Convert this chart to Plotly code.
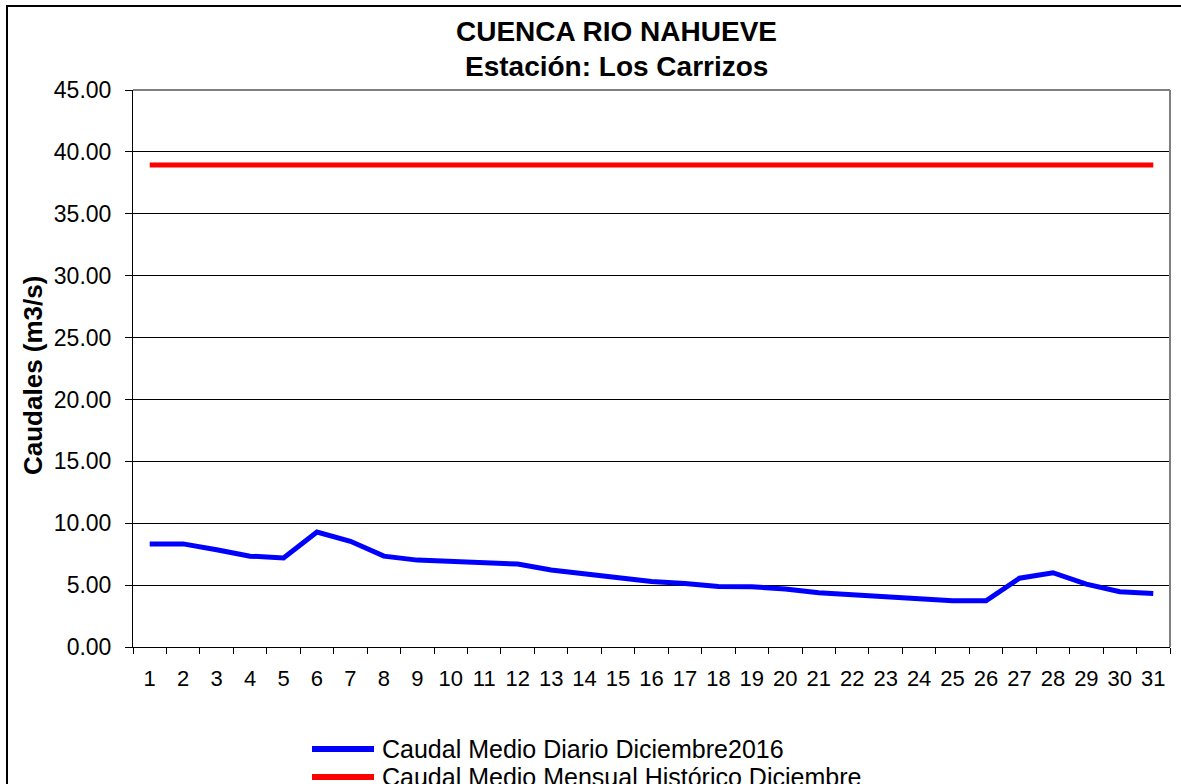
import plotly.graph_objects as go

# Caudales diarios diciembre 2016, estacion Los Carrizos
dias = [str(d) for d in range(1, 32)]
caudal_diario = [8.33, 8.33, 7.85, 7.34, 7.20, 9.29, 8.54, 7.34, 7.02, 6.90,
                 6.73, 6.70, 6.22, 5.88, 5.56, 5.29, 5.13, 4.89, 4.87, 4.68,
                 4.38, 4.22, 4.09, 3.93, 3.74, 3.74, 5.56, 6.00, 5.08, 4.46, 4.33]
caudal_historico = [38.94] * 31
series = ["Caudal Medio Diario Diciembre2016",
          "Caudal Medio Mensual Histórico Diciembre"]
colores = ["#0000FF", "#FF0000"]

W, H = 1181, 784
L, R, T, B = 133, 11, 90, 137
pw, ph = W - L - R, H - T - B

def px_x(x):
    return (x - L) / pw

def px_y(y):
    return (H - B - y) / ph

font = "Liberation Sans, Arial, sans-serif"

fig = go.Figure()
for nombre, vals, col in zip(series, [caudal_diario, caudal_historico], colores):
    fig.add_trace(go.Scatter(x=dias, y=vals, mode="lines", name=nombre,
                             line=dict(color=col, width=5)))

shapes = [
    dict(type="line", xref="paper", yref="paper", x0=0, x1=1, y0=1, y1=1,
         line=dict(color="#808080", width=2)),
    dict(type="line", xref="paper", yref="paper", x0=1, x1=1, y0=0, y1=1,
         line=dict(color="#808080", width=2)),
    dict(type="rect", xref="paper", yref="paper",
         x0=px_x(7), x1=px_x(1230), y0=px_y(820), y1=px_y(6),
         line=dict(color="black", width=2)),
]
annotations = [
    dict(text="<b>CUENCA RIO NAHUEVE</b>", x=px_x(616), y=px_y(31),
         font=dict(size=28)),
    dict(text="<b>Estación: Los Carrizos</b>", x=px_x(616), y=px_y(67),
         font=dict(size=28)),
    dict(text="<b>Caudales (m3/s)</b>", x=px_x(33), y=px_y(376),
         textangle=-90, font=dict(size=26)),
]

# leyenda dibujada a mano (simbolo largo como en Excel)
for i, (nombre, col) in enumerate(zip(series, colores)):
    ly = 749 + 28 * i
    shapes.append(dict(type="line", xref="paper", yref="paper",
                       x0=px_x(312), x1=px_x(374), y0=px_y(ly), y1=px_y(ly),
                       line=dict(color=col, width=6)))
    annotations.append(dict(text=nombre, x=px_x(380), y=px_y(ly),
                            xanchor="left", font=dict(size=25)))

for a in annotations:
    a.setdefault("xanchor", "center")
    a.update(xref="paper", yref="paper", showarrow=False, yanchor="middle")

fig.update_layout(
    width=W, height=H,
    margin=dict(l=L, r=R, t=T, b=B, autoexpand=False),
    plot_bgcolor="white", paper_bgcolor="white",
    font=dict(family=font, color="black"),
    showlegend=False,
    xaxis=dict(type="category", range=[-0.5, 30.5], tickson="boundaries",
               ticks="outside", ticklen=6, tickcolor="black", showline=True,
               linecolor="black", linewidth=1, showgrid=False,
               tickfont=dict(size=22), tickangle=0, ticklabelstandoff=12,
               automargin=False),
    yaxis=dict(range=[0, 45], dtick=5, tickformat=".2f", ticks="outside",
               ticklen=7, tickcolor="black", showline=True, linecolor="black",
               linewidth=1, showgrid=True, gridcolor="black", gridwidth=1,
               zeroline=False, tickfont=dict(size=23), ticklabelstandoff=9,
               automargin=False),
    shapes=shapes,
    annotations=annotations,
)

# quitar el margen por defecto del body para que la figura llene la ventana
fig.write_html("out.html", config={"displayModeBar": False},
               post_script="document.body.style.margin='0px';"
                           "document.body.style.overflow='hidden';")
